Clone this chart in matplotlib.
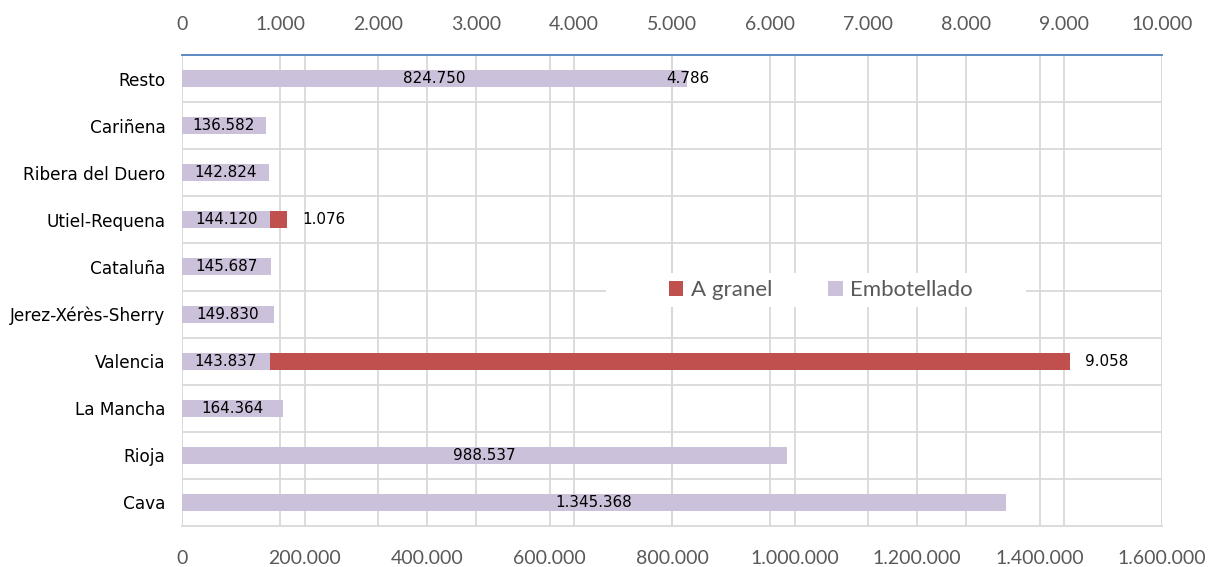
import matplotlib
matplotlib.use("Agg")
import matplotlib.pyplot as plt
from matplotlib.lines import Line2D
from matplotlib.patches import Patch, Rectangle
import matplotlib.transforms as mtransforms

categories = ["Cava", "Rioja", "La Mancha", "Valencia", "Jerez-Xérès-Sherry",
              "Cataluña", "Utiel-Requena", "Ribera del Duero", "Cariñena", "Resto"]
embotellado = [1345368, 988537, 164364, 143837, 149830, 145687, 144120, 142824, 136582, 824750]
granel = [0, 0, 0, 9058, 0, 0, 1076, 0, 0, 4786]
bottom_ticks = [0, 200000, 400000, 600000, 800000, 1000000, 1200000, 1400000, 1600000]
top_ticks = [0, 1000, 2000, 3000, 4000, 5000, 6000, 7000, 8000, 9000, 10000]

LAV = "#CCC1DA"
RED = "#C0504D"
GRID = "#D9D9D9"
TICKC = "#595959"
TICKFONT = "Lato"
LABFONT = "DejaVu Sans"


def fmt(v):
    return f"{v:,}".replace(",", ".")


fig = plt.figure(figsize=(12.12, 5.67), dpi=100)
ax = fig.add_axes([182 / 1212, 1 - 526 / 567, 980 / 1212, 471 / 567])
ax2 = ax.twiny()

y = list(range(len(categories)))
bh = 0.36

ax.set_xlim(top_ticks[0], top_ticks[-1])
ax.set_ylim(-0.5, len(categories) - 0.5)
ax2.set_xlim(bottom_ticks[0], bottom_ticks[-1])

# gridlines (all in background axes)
for t in top_ticks:
    ax.axvline(t, color=GRID, lw=1.3, zorder=0)
trans = mtransforms.blended_transform_factory(ax2.transData, ax.transAxes)
for t in bottom_ticks:
    ax.add_line(Line2D([t, t], [0, 1], transform=trans, color=GRID, lw=1.3, zorder=0))
for b in range(len(categories) - 1):
    ax.axhline(b + 0.5, color=GRID, lw=1.3, zorder=0)

ax.barh(y, granel, height=bh, color=RED, zorder=2)
ax2.barh(y, embotellado, height=bh, color=LAV, zorder=2)
ax2.patch.set_visible(False)

# data labels
for yi, v in zip(y, embotellado):
    ax2.text(v / 2, yi, fmt(v), ha="center", va="center", fontsize=10.9,
             family=LABFONT, color="black", zorder=5)
for yi, v in zip(y, granel):
    if v > 0:
        ax2.annotate(fmt(v), (v, yi), xycoords=ax.transData, xytext=(11, 0),
                     textcoords="offset points", ha="left", va="center",
                     fontsize=10.9, family=LABFONT, color="black", zorder=6)

# axes styling
ax.set_yticks(y)
ax.set_yticklabels(categories, fontsize=12.2, family=LABFONT, color="black")
ax.tick_params(axis="y", length=0, pad=12)
ax.xaxis.set_ticks_position("top")
ax.set_xticks(top_ticks)
ax.set_xticklabels([fmt(t) for t in top_ticks], fontsize=14, family=TICKFONT, color=TICKC)
ax.tick_params(axis="x", length=0, pad=16)

ax2.xaxis.set_ticks_position("bottom")
ax2.xaxis.set_label_position("bottom")
ax2.set_xticks(bottom_ticks)
ax2.set_xticklabels([fmt(t) for t in bottom_ticks], fontsize=14, family=TICKFONT, color=TICKC)
ax2.tick_params(axis="x", length=0, pad=17)

for a in (ax, ax2):
    for s in a.spines.values():
        s.set_visible(False)
ax.spines["top"].set_visible(True)
ax.spines["top"].set_color("#4F81BD")
ax.spines["top"].set_linewidth(1.3)
ax.spines["bottom"].set_visible(True)
ax.spines["bottom"].set_color(GRID)
ax.spines["bottom"].set_linewidth(1.3)

# legend with white backdrop
ax2.add_patch(Rectangle((0.4327, 0.465), 0.4286, 0.072, transform=ax2.transAxes,
                        facecolor="white", edgecolor="none", zorder=1))
handles = [Patch(facecolor=RED, label="A granel"), Patch(facecolor=LAV, label="Embotellado")]
leg = ax2.legend(handles=handles, loc="center", bbox_to_anchor=(0.652, 0.501), ncol=2,
                 frameon=False, prop={"family": TICKFONT, "size": 16},
                 handlelength=0.65, handleheight=0.65, handletextpad=0.35,
                 columnspacing=2.5, borderpad=0.2)
for t in leg.get_texts():
    t.set_color(TICKC)
leg.set_zorder(10)

fig.savefig("out.png", dpi=100)
